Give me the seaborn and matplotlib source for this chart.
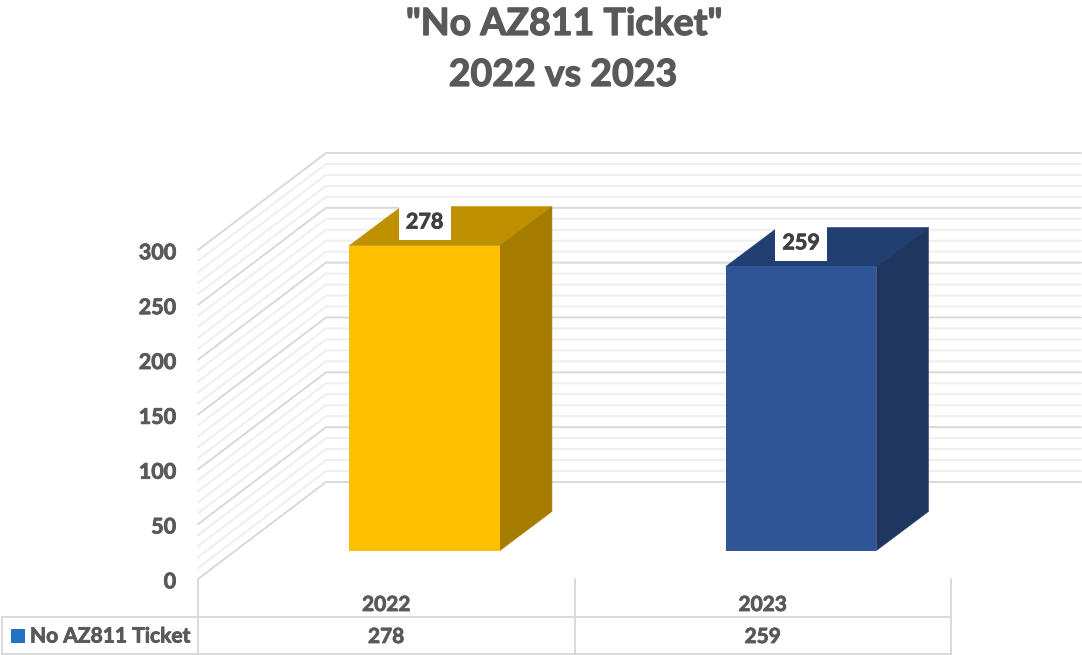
import matplotlib
matplotlib.use("Agg")
import matplotlib.pyplot as plt
from matplotlib.patches import Polygon, Rectangle
from matplotlib.transforms import ScaledTranslation
import matplotlib.patheffects as pe
import pandas as pd
import seaborn as sns

years = ["2022", "2023"]
tickets = [278, 259]
series_name = "No AZ811 Ticket"
title_lines = ['"No AZ811 Ticket"', "2022 vs 2023"]
y_major = [0, 50, 100, 150, 200, 250, 300]
y_minor = [v for v in range(0, 301, 10) if v % 50]

front_colors = ["#FFC000", "#2F5597"]
top_colors = ["#BF9000", "#223F71"]
side_colors = ["#A67C00", "#1F3660"]
TEXT = "#595959"
MAJOR = "#D9D9D9"
MINOR = "#EFEFEF"
FW, FH = 1082, 655

sns.set_theme(style="white")
plt.rcParams["font.family"] = ["Lato", "DejaVu Sans"]
fig = plt.figure(figsize=(FW / 100, FH / 100), dpi=100)

# pixel geometry of the oblique projection
PX_X = 376.5      # px per category
PX_Y = 329 / 300  # px per value unit
L, B0 = 198, 579  # front-plane origin


def heavy(color, w=0.6):
    return [pe.withStroke(linewidth=w, foreground=color)]


def box(left, base):
    return [left / FW, (FH - base) / FH, 753 / FW, 329 / FH]


# wall axes: value axis, wall grid
wall = fig.add_axes(box(L, B0))
wall.set_xlim(-0.5, 1.5)
wall.set_ylim(0, 300)
wall.patch.set_alpha(0)
sns.despine(ax=wall, left=True, bottom=True, top=True, right=True)
wall_dx, wall_dy = 128 / PX_X, 97 / PX_Y
x_end = -0.5 + (1081 - L) / PX_X


def wall_line(v, color, lw, z):
    wall.plot([-0.5, -0.5 + wall_dx, x_end], [v, v + wall_dy, v + wall_dy],
              color=color, lw=lw, clip_on=False, zorder=z,
              solid_joinstyle="miter")


for v in y_minor:
    wall_line(v, MINOR, 1.5, 1)
for v in y_major:
    wall_line(v, MAJOR, 1.4, 2)
wall.set_yticks(y_major)
wall.set_yticklabels([str(v) for v in y_major], fontsize=15.5, fontweight="bold", color=TEXT)
wall.tick_params(axis="y", length=0, pad=15.8)
shift = ScaledTranslation(0, -0.6 / 72, fig.dpi_scale_trans)
for lab in wall.get_yticklabels():
    lab.set_transform(lab.get_transform() + shift)
    lab.set_path_effects(heavy(TEXT))
wall.set_xticks([])

# bar axes: front plane of the columns
bars = fig.add_axes(box(L + 38.4, 550.5))
df = pd.DataFrame({"year": years, "tickets": tickets})
sns.barplot(data=df, x="year", y="tickets", hue="year", palette=front_colors,
            hue_order=years, order=years, width=0.4, saturation=1, legend=False,
            ax=bars, linewidth=0, zorder=4)
bars.set_xlim(-0.5, 1.5)
bars.set_ylim(0, 300)
bars.axis("off")
dx, dy = 52 / PX_X, 39 / PX_Y
for i, p in enumerate(bars.patches[:len(years)]):
    x0, x1, h = p.get_x(), p.get_x() + p.get_width(), p.get_height()
    bars.add_patch(Polygon([(x0, h), (x1, h), (x1 + dx, h + dy), (x0 + dx, h + dy)],
                           fc=top_colors[i], ec=top_colors[i], lw=0.4, clip_on=False, zorder=3))
    bars.add_patch(Polygon([(x1, 0), (x1, h), (x1 + dx, h + dy), (x1 + dx, dy)],
                           fc=side_colors[i], ec=side_colors[i], lw=0.4, clip_on=False, zorder=3))
    bars.annotate(str(tickets[i]), xy=(i, h), xytext=(0, 17), textcoords="offset points",
                  ha="center", va="center", fontsize=15.5, fontweight="bold", color="#404040",
                  bbox=dict(fc="white", ec="none", pad=5.2), zorder=5, annotation_clip=False,
                  path_effects=heavy("#404040"))

# overlay in pixels: data table
tab = fig.add_axes([0, 0, 1, 1])
tab.set_xlim(0, FW)
tab.set_ylim(FH, 0)
tab.axis("off")
tab.patch.set_alpha(0)
col_edges = [L, L + PX_X, L + 2 * PX_X]
row_top, row_mid, row_bot = B0, 617, 654
for x in col_edges:
    tab.plot([x, x], [row_top, row_bot], color=MAJOR, lw=1.4)
tab.plot([2, 2], [row_mid, row_bot], color=MAJOR, lw=1.4)
for y in (row_mid, row_bot):
    tab.plot([2, col_edges[-1]], [y, y], color=MAJOR, lw=1.4)
for i, (yr, val) in enumerate(zip(years, tickets)):
    cx = L + (i + 0.5) * PX_X
    tab.text(cx, 605, yr, ha="center", va="center", fontsize=15, fontweight="bold",
             color=TEXT, path_effects=heavy(TEXT))
    tab.text(cx, 637, str(val), ha="center", va="center", fontsize=15, fontweight="bold",
             color=TEXT, path_effects=heavy(TEXT))
tab.add_patch(Rectangle((11, 629), 14, 14, fc="#2472C4", ec="none"))
tab.text(30, 636.5, series_name, ha="left", va="center", fontsize=15.1, fontweight="bold",
         color=TEXT, path_effects=heavy(TEXT))

fig.text(564 / FW, 1 - 24 / FH, title_lines[0], ha="center", va="center",
         fontsize=27, fontweight="bold", color=TEXT, path_effects=heavy(TEXT, 0.9))
fig.text(563 / FW, 1 - 75 / FH, title_lines[1], ha="center", va="center",
         fontsize=27, fontweight="bold", color=TEXT, path_effects=heavy(TEXT, 0.9))

fig.savefig("out.png", dpi=100)
